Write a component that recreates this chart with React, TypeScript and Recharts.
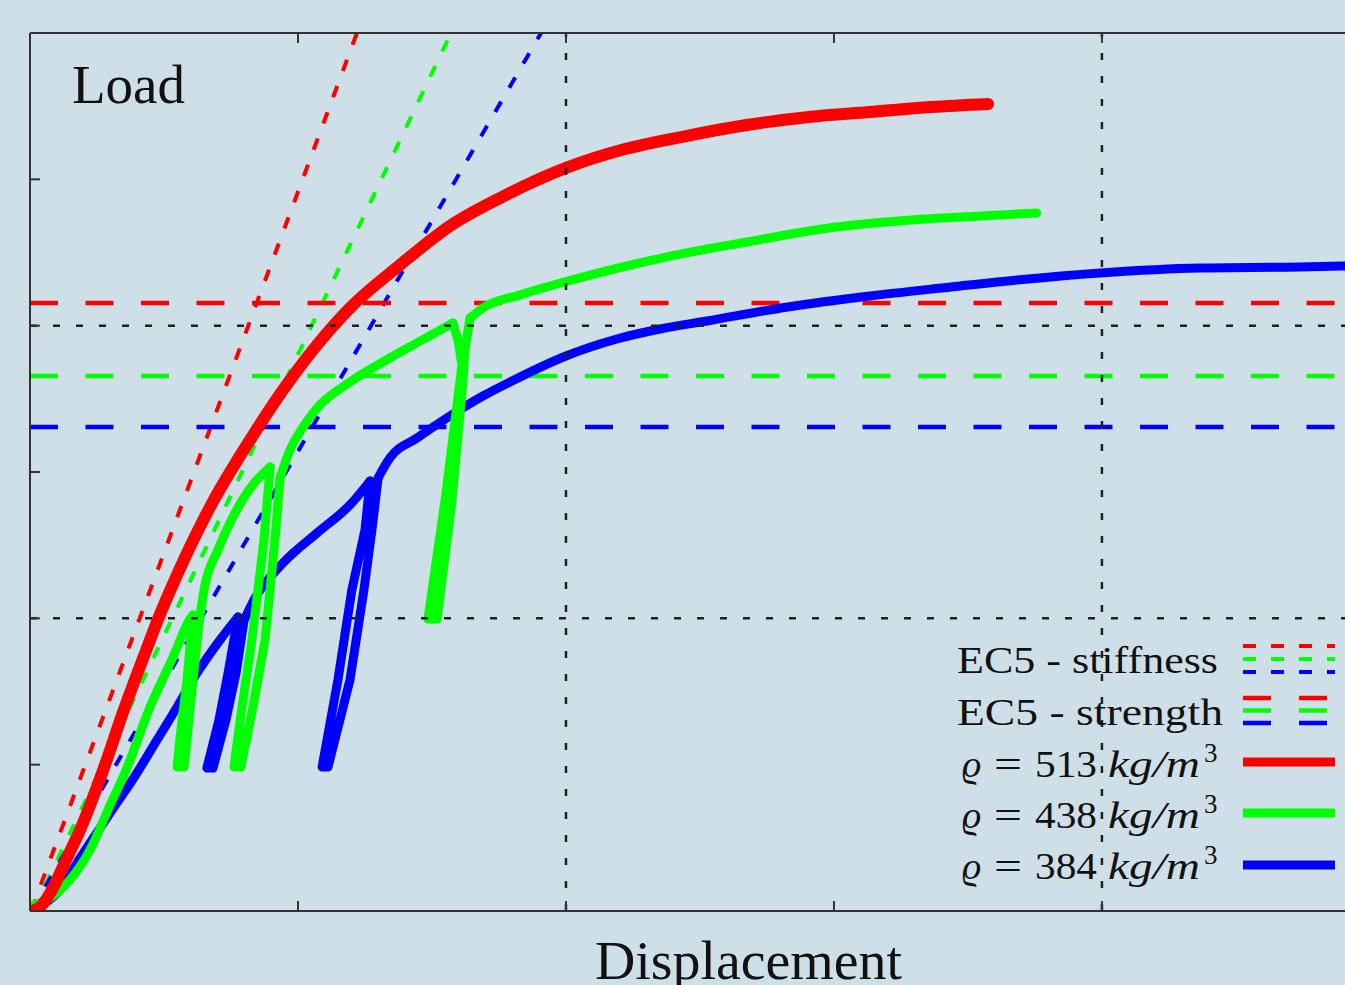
import React from 'react';
import { LineChart, Line, XAxis, YAxis, ReferenceLine, Legend } from 'recharts';

type Pt = { x: number; y: number };
type Seg = [number, number][];

// displacement / load (grid every 2 units)
// rho = 513: monotone loading curve
const rho513: Seg = [
  [0.011, 0], [0.045, 0.041], [0.082, 0.144], [0.131, 0.335], [0.187, 0.554],
  [0.269, 0.943], [0.354, 1.394], [0.448, 1.852], [0.478, 1.995], [0.552, 2.31],
  [0.672, 2.761], [0.821, 3.219], [0.944, 3.56], [1.071, 3.868], [1.194, 4.121],
  [1.381, 4.415], [1.567, 4.681], [1.761, 4.879], [2.0, 5.078], [2.22, 5.207],
  [2.448, 5.296], [2.675, 5.371], [2.907, 5.426], [3.134, 5.46], [3.362, 5.494],
  [3.575, 5.515],
];

// rho = 438: loading branches + unload/reload loops
const g438Load1: Seg = [
  [0.011, 0.041], [0.075, 0.089], [0.149, 0.212], [0.224, 0.417], [0.299, 0.724],
  [0.354, 0.943], [0.448, 1.394], [0.534, 1.736], [0.597, 1.995], [0.608, 2.023],
];
const g438Loop1: Seg = [
  [0.608, 2.023], [0.586, 1.579], [0.563, 1.237], [0.549, 0.984], [0.575, 0.984],
  [0.593, 1.305], [0.616, 1.715], [0.631, 1.975],
];
const g438Load2: Seg = [
  [0.631, 1.975], [0.653, 2.228], [0.701, 2.467], [0.765, 2.72], [0.84, 2.932], [0.896, 3.034],
];
const g438Loop2: Seg = [
  [0.896, 3.034], [0.873, 2.535], [0.828, 1.852], [0.791, 1.394], [0.761, 0.984],
  [0.787, 0.984], [0.832, 1.394], [0.877, 1.852], [0.914, 2.535], [0.933, 2.959],
];
const g438Load3: Seg = [
  [0.933, 2.959], [0.97, 3.15], [1.007, 3.273], [1.071, 3.437], [1.194, 3.615],
  [1.317, 3.752], [1.444, 3.882], [1.578, 4.018],
];
const g438Loop3: Seg = [
  [1.578, 4.018], [1.597, 3.902], [1.612, 3.731], [1.549, 2.809], [1.485, 1.995],
  [1.519, 1.995], [1.575, 2.809], [1.616, 3.629], [1.623, 3.834], [1.642, 4.052],
];
const g438Load4: Seg = [
  [1.642, 4.052], [1.69, 4.121], [1.828, 4.210], [1.993, 4.298], [2.373, 4.469],
  [2.675, 4.572], [2.981, 4.668], [3.287, 4.722], [3.545, 4.75], [3.757, 4.77],
];

// rho = 384
const b384Load1: Seg = [
  [0.011, 0.021], [0.056, 0.055], [0.112, 0.144], [0.187, 0.362], [0.299, 0.67],
  [0.399, 0.943], [0.474, 1.169], [0.549, 1.394], [0.623, 1.626], [0.709, 1.852], [0.776, 2.009],
];
const b384Loop1: Seg = [
  [0.776, 2.009], [0.739, 1.626], [0.705, 1.305], [0.66, 0.977], [0.683, 0.977],
  [0.731, 1.305], [0.769, 1.626], [0.799, 1.989],
];
const b384Load2: Seg = [
  [0.799, 1.989], [0.84, 2.139], [0.944, 2.378], [1.071, 2.583], [1.194, 2.775], [1.269, 2.939],
];
const b384Loop2: Seg = [
  [1.269, 2.939], [1.25, 2.604], [1.201, 2.194], [1.149, 1.579], [1.09, 0.984],
  [1.112, 0.984], [1.194, 1.579], [1.246, 2.194], [1.276, 2.604], [1.299, 2.959],
];
const b384Load3: Seg = [
  [1.299, 2.959], [1.343, 3.096], [1.444, 3.232], [1.567, 3.383], [1.69, 3.519],
  [1.791, 3.615], [2.0, 3.793], [2.19, 3.909], [2.351, 3.977], [2.526, 4.032],
  [2.828, 4.128], [3.134, 4.203], [3.437, 4.264], [3.683, 4.312], [3.993, 4.36],
  [4.366, 4.394], [4.739, 4.401], [4.907, 4.408],
];

// EC5 stiffness lines (start, end)
const stiff513: Seg = [[0.004, 0], [1.22, 6]];
const stiff438: Seg = [[0.011, 0], [1.571, 6]];
const stiff384: Seg = [[0.004, 0], [1.907, 6]];

// EC5 strength levels
const strength513 = 4.155;
const strength438 = 3.656;
const strength384 = 3.308;

const xDomain: [number, number] = [0, 4.907];
const xTicks = [0, 1, 2, 3, 4];
const yTicks = [0, 1, 2, 3, 4, 5, 6];
const gridX = [2, 4];
const gridY = [2, 4];

const toPts = (a: Seg): Pt[] => a.map(([x, y]) => ({ x, y }));

const RED = '#ff0000';
const GREEN = '#00ff00';
const BLUE = '#0000ff';
const INK = '#222';
const serif = "'Liberation Serif', 'DejaVu Serif', serif";

function LegendBox() {
  const rows = [
    { label: '513', color: RED, base: 777, line: 762 },
    { label: '438', color: GREEN, base: 828, line: 813 },
    { label: '384', color: BLUE, base: 879, line: 865 },
  ];
  return (
    <svg width={405} height={260} style={{ display: 'block' }}>
      <g transform="translate(-940,-630)" fontFamily={serif} fill="#111">
        <text x={957} y={673} fontSize={38} textLength={261} lengthAdjust="spacingAndGlyphs">
          EC5 - stiffness
        </text>
        {[RED, GREEN, BLUE].map((c, i) => (
          <line key={'s' + c} x1={1243} x2={1335} y1={646 + i * 13} y2={646 + i * 13}
            stroke={c} strokeWidth={4} strokeDasharray="13 15" />
        ))}
        <text x={957} y={725} fontSize={38} textLength={266} lengthAdjust="spacingAndGlyphs">
          EC5 - strength
        </text>
        {[RED, GREEN, BLUE].map((c, i) => (
          <line key={'t' + c} x1={1243} x2={1335} y1={698 + i * 12.5} y2={698 + i * 12.5}
            stroke={c} strokeWidth={4.5} strokeDasharray="28 28" />
        ))}
        {rows.map((r) => (
          <g key={r.label}>
            <text x={962} y={r.base} fontSize={38} fontStyle="italic">ϱ</text>
            <text x={994} y={r.base} fontSize={38} textLength={28} lengthAdjust="spacingAndGlyphs">=</text>
            <text x={1035} y={r.base} fontSize={38} textLength={62} lengthAdjust="spacingAndGlyphs">{r.label}</text>
            <text x={1108} y={r.base} fontSize={38} fontStyle="italic" textLength={92} lengthAdjust="spacingAndGlyphs">kg/m</text>
            <text x={1204} y={r.base - 15} fontSize={27}>3</text>
            <line x1={1243} x2={1335} y1={r.line} y2={r.line} stroke={r.color} strokeWidth={9} />
          </g>
        ))}
      </g>
    </svg>
  );
}

function curve(key: string, seg: Seg, color: string, width: number, smooth: boolean) {
  return (
    <Line key={key} data={toPts(seg)} dataKey="y" type={smooth ? 'monotone' : 'linear'}
      stroke={color} strokeWidth={width} strokeLinecap="round" strokeLinejoin="round"
      dot={false} activeDot={false} isAnimationActive={false} />
  );
}

export default function App() {
  const axisStroke = { stroke: '#333', strokeWidth: 2 };
  return (
    <div style={{ position: 'absolute', left: 0, top: 0, width: 1345, height: 985, background: '#cfdfe7', overflow: 'hidden' }}>
      <LineChart width={1345} height={985} margin={{ top: 33, right: 0, bottom: 74, left: 30 }}>
        <XAxis type="number" dataKey="x" domain={xDomain} ticks={xTicks} allowDataOverflow mirror
          tickSize={10} tickFormatter={() => ''} axisLine={axisStroke} tickLine={axisStroke} />
        <XAxis xAxisId="top" orientation="top" type="number" dataKey="x" domain={xDomain} ticks={xTicks}
          allowDataOverflow mirror tickSize={10} tickFormatter={() => ''} axisLine={axisStroke} tickLine={axisStroke} />
        <YAxis type="number" dataKey="y" domain={[0, 6]} ticks={yTicks} allowDataOverflow mirror
          tickSize={10} tickFormatter={() => ''} axisLine={axisStroke} tickLine={axisStroke} />

        <Line data={toPts(stiff513)} dataKey="y" stroke={RED} strokeWidth={4} strokeDasharray="12 16"
          dot={false} activeDot={false} isAnimationActive={false} />
        <Line data={toPts(stiff438)} dataKey="y" stroke={GREEN} strokeWidth={4} strokeDasharray="12 16"
          dot={false} activeDot={false} isAnimationActive={false} />
        <Line data={toPts(stiff384)} dataKey="y" stroke={BLUE} strokeWidth={4} strokeDasharray="12 16"
          dot={false} activeDot={false} isAnimationActive={false} />

        <ReferenceLine y={strength513} stroke={RED} strokeWidth={4.5} strokeDasharray="28 27.5" />
        <ReferenceLine y={strength438} stroke={GREEN} strokeWidth={4.5} strokeDasharray="28 27.5" />
        <ReferenceLine y={strength384} stroke={BLUE} strokeWidth={4.5} strokeDasharray="28 27.5" />

        {curve('b1', b384Load1, BLUE, 9, true)}
        {curve('b2', b384Loop1, BLUE, 9, false)}
        {curve('b3', b384Load2, BLUE, 9, true)}
        {curve('b4', b384Loop2, BLUE, 9, false)}
        {curve('b5', b384Load3, BLUE, 9, true)}

        {curve('g1', g438Load1, GREEN, 9, true)}
        {curve('g2', g438Loop1, GREEN, 9, false)}
        {curve('g3', g438Load2, GREEN, 9, true)}
        {curve('g4', g438Loop2, GREEN, 9, false)}
        {curve('g5', g438Load3, GREEN, 9, true)}
        {curve('g6', g438Loop3, GREEN, 9, false)}
        {curve('g7', g438Load4, GREEN, 9, true)}

        {curve('r1', rho513, RED, 12, true)}

        {gridX.map((v) => (
          <ReferenceLine key={'gx' + v} x={v} stroke={INK} strokeWidth={2.5} strokeDasharray="7 16" />
        ))}
        {gridY.map((v) => (
          <ReferenceLine key={'gy' + v} y={v} stroke={INK} strokeWidth={2.5} strokeDasharray="7 16" />
        ))}

        <Legend layout="vertical" align="center" verticalAlign="middle" content={() => <LegendBox />}
          wrapperStyle={{ left: 940, top: 630, width: 405, height: 260 }} />

        <text x={72} y={103} fontFamily={serif} fontSize={54} fill="#111" textLength={113} lengthAdjust="spacingAndGlyphs">
          Load
        </text>
        <text x={595} y={979} fontFamily={serif} fontSize={54} fill="#111" textLength={307} lengthAdjust="spacingAndGlyphs">
          Displacement
        </text>
      </LineChart>
    </div>
  );
}
